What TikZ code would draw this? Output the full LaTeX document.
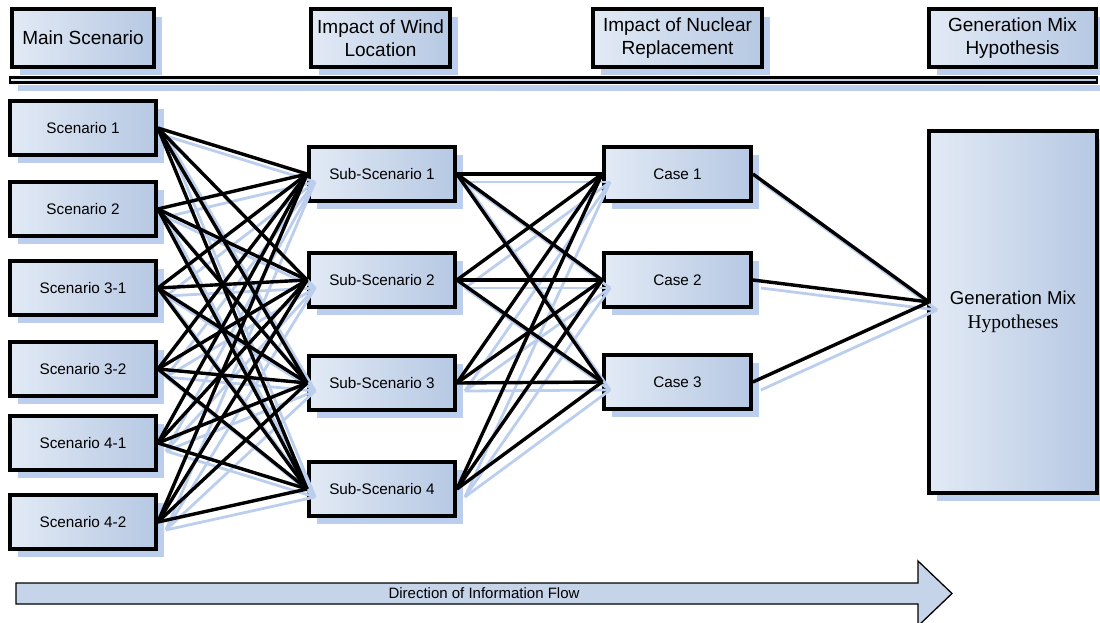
\documentclass[tikz,border=0pt]{standalone}
\usepackage{fontspec}
\setmainfont{Liberation Sans}
\newfontfamily\hypserif{Liberation Serif}
\usetikzlibrary{shadows}

\definecolor{boxlight}{RGB}{226,234,245}
\definecolor{boxdark}{RGB}{182,200,227}
\definecolor{shadowblue}{RGB}{188,206,237}
\definecolor{flowfill}{RGB}{198,212,234}

\tikzset{
  box/.style={rectangle, draw=black, line width=3.8pt,
    left color=boxlight, right color=boxdark,
    inner sep=2pt, align=center,
    font=\fontsize{15.3}{18}\selectfont,
    drop shadow={shadow xshift=8pt, shadow yshift=-8pt, fill=shadowblue, opacity=1}},
  smallbox/.style={box, minimum width=146pt, minimum height=54pt},
  headbox/.style={box, minimum height=58pt, font=\fontsize{19}{23}\selectfont},
  barbox/.style={box, line width=2.8pt, inner sep=0pt},
  link/.style={draw=black, line width=3.4pt},
  linkshadow/.style={draw=shadowblue, line width=2.8pt,
    transform canvas={shift={(8pt,-8pt)}}},
  flowtext/.style={font=\fontsize{15}{18}\selectfont, inner sep=0pt}
}

\begin{document}
\begin{tikzpicture}[x=1pt, y=-1pt]
\useasboundingbox (0,0) rectangle (1100,623);

% column headings and the bar beneath them
\node[headbox, minimum width=142pt] (hmain) at (83,38) {Main Scenario};
\node[headbox, minimum width=139pt] (hwind) at (380.5,38) {Impact of Wind\\Location};
\node[headbox, minimum width=169pt] (hnuc) at (677.5,38) {Impact of Nuclear\\Replacement};
\node[headbox, minimum width=167pt] (hgen) at (1012.5,38) {Generation Mix\\Hypothesis};
\node[barbox, minimum width=1087pt, minimum height=5.4pt] (bar) at (553.5,80) {};

% main scenarios
\node[smallbox] (sc1) at (83,128) {Scenario 1};
\node[smallbox] (sc2) at (83,209) {Scenario 2};
\node[smallbox] (sc3) at (83,288) {Scenario 3-1};
\node[smallbox] (sc4) at (83,369) {Scenario 3-2};
\node[smallbox] (sc5) at (83,443) {Scenario 4-1};
\node[smallbox] (sc6) at (83,522) {Scenario 4-2};

% wind location sub-scenarios
\node[smallbox] (ss1) at (382,174) {Sub-Scenario 1};
\node[smallbox] (ss2) at (382,280) {Sub-Scenario 2};
\node[smallbox] (ss3) at (382,383) {Sub-Scenario 3};
\node[smallbox] (ss4) at (382,489) {Sub-Scenario 4};

% nuclear replacement cases
\node[smallbox, minimum width=147pt] (cs1) at (677.5,174) {Case 1};
\node[smallbox, minimum width=147pt] (cs2) at (677.5,280) {Case 2};
\node[smallbox, minimum width=147pt] (cs3) at (677.5,382) {Case 3};

% generation mix hypotheses
\node[box, minimum width=168pt, minimum height=362pt,
      font=\fontsize{18.6}{24}\selectfont] (gen) at (1013,312)
      {Generation Mix\\{\hypserif\fontsize{19.5}{24}\selectfont Hypotheses}};
\coordinate (genin) at (929,302);

% connector shadows
\foreach \i in {1,...,6}{
  \foreach \j in {1,...,4}{
    \draw[linkshadow] (sc\i.east) -- (ss\j.west);
  }
}
\foreach \j in {1,...,4}{
  \foreach \k in {1,...,3}{
    \draw[linkshadow] (ss\j.east) -- (cs\k.west);
  }
}
\foreach \k in {1,...,3}{
  \draw[linkshadow] (cs\k.east) -- (genin);
}

% connectors
\foreach \i in {1,...,6}{
  \foreach \j in {1,...,4}{
    \draw[link] (sc\i.east) -- (ss\j.west);
  }
}
\foreach \j in {1,...,4}{
  \foreach \k in {1,...,3}{
    \draw[link] (ss\j.east) -- (cs\k.west);
  }
}
\foreach \k in {1,...,3}{
  \draw[link] (cs\k.east) -- (genin);
}

% direction of information flow
\draw[fill=flowfill, draw=black, line width=1.3pt, line join=miter]
  (16,583) -- (918,583) -- (918,561) -- (952,593.5) -- (918,626)
  -- (918,604) -- (16,604) -- cycle;
\node[flowtext] (flow) at (484,593.5) {Direction of Information Flow};
\end{tikzpicture}
\end{document}
